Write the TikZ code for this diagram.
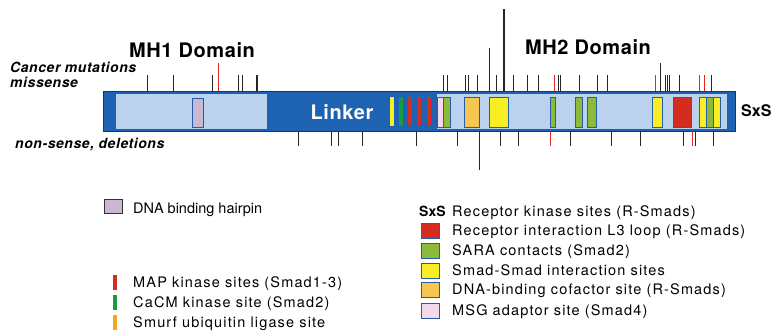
\documentclass[tikz,border=0pt]{standalone}
\usepackage{fontspec}
\setmainfont{TeX Gyre Heros}
\definecolor{bardark}{RGB}{30,98,178}
\definecolor{barlight}{RGB}{186,210,238}
\definecolor{boxline}{RGB}{38,92,170}
\definecolor{sitered}{RGB}{212,44,30}
\definecolor{saragreen}{RGB}{142,186,58}
\definecolor{camgreen}{RGB}{24,154,64}
\definecolor{smadyellow}{RGB}{248,238,36}
\definecolor{cofactor}{RGB}{246,198,80}
\definecolor{msgpink}{RGB}{244,218,232}
\definecolor{hairpin}{RGB}{202,184,210}
\definecolor{smurf}{RGB}{240,170,30}
\definecolor{mutred}{RGB}{228,40,30}
\tikzstyle{every node}=[inner sep=0pt]
\tikzset{sitebox/.style={draw=boxline, line width=1pt},
  mutick/.style={line width=0.9pt, black!85},
  redtick/.style={line width=0.9pt, mutred},
  keylabel/.style={anchor=base west, font=\fontsize{14.5}{16}\selectfont\addfontfeatures{LetterSpace=8}},
  domainlabel/.style={font=\bfseries\fontsize{20}{22}\selectfont\addfontfeatures{LetterSpace=3}},
  mutlabel/.style={anchor=base west, align=left, font=\bfseries\itshape\fontsize{14}{15}\selectfont\addfontfeatures{LetterSpace=4}}}

\begin{document}
\begin{tikzpicture}[x=1pt,y=-1pt]
  \useasboundingbox (0,0) rectangle (772,330);
  % the protein
  \draw[fill=bardark, draw=black!80, line width=0.6pt] (103,91) rectangle (735,131);
  \draw[sitebox, fill=barlight] (115,93) rectangle (267,129);
  \draw[sitebox, fill=barlight] (436,93) rectangle (727,129);
  \draw[sitebox, fill=hairpin] (192,98) rectangle (203,127);
  \fill[smadyellow] (390,97) rectangle (394,126);
  \fill[camgreen] (399,97) rectangle (403,126);
  \foreach \x in {408,417,427}
    \fill[sitered] (\x,97) rectangle (\x+4,126);
  \draw[sitebox, fill=msgpink] (437,97) rectangle (443,127);
  \foreach \a/\b in {443/450,550/555,575/582,587/596,706/713}
    \draw[sitebox, fill=saragreen] (\a,97) rectangle (\b,127);
  \foreach \a/\b in {489/508,652/662,699/706,713/720}
    \draw[sitebox, fill=smadyellow] (\a,97) rectangle (\b,127);
  \draw[sitebox, fill=cofactor] (464,97) rectangle (479,127);
  \draw[sitebox, fill=sitered] (673,97) rectangle (691,127);
  % mutations
  \foreach \x in {147,173,212,238,242,443,447,465,468,477,496,513,527,538,558,560,579,597,607,665,667,669,679,711}
    \draw[mutick] (\x,75) -- (\x,91);
  \draw[mutick, line width=1.5pt] (257,75) -- (257,91);
  \foreach \x in {554,655,699,704}
    \draw[redtick] (\x,75) -- (\x,91);
  \draw[redtick] (218,63) -- (218,91);
  \draw[mutick] (489,48) -- (489,91);
  \draw[mutick, line width=1.2pt] (504,9) -- (504,91);
  \draw[mutick] (660,63) -- (660,91);
  \foreach \x in {298,331,338,362,416,457,500,518,570,611,640,683,695,713}
    \draw[mutick] (\x,131) -- (\x,146);
  \foreach \x in {550,692}
    \draw[redtick] (\x,131) -- (\x,146);
  \draw[mutick] (479,131) -- (479,170);
  % labels
  \node[domainlabel] (mh1) at (192,50) {MH1 Domain};
  \node[domainlabel] (mh2) at (588,47) {MH2 Domain};
  \node[domainlabel, text=white] (linker) at (342,112) {Linker};
  \node[anchor=west, font=\bfseries\fontsize{16}{18}\selectfont] (sxs) at (741,111) {SxS};
  \node[mutlabel] (missense) at (10,87) {Cancer mutations\\missense};
  \node[mutlabel] (nonsense) at (15,148) {non-sense, deletions};
  % legend
  \draw[fill=hairpin, draw=black!80, line width=0.8pt] (104,199) rectangle (122,213);
  \node[keylabel, font=\fontsize{14.5}{16}\selectfont] (hp) at (133,213) {DNA binding hairpin};
  \fill[sitered] (113,275) rectangle (117,290);
  \fill[camgreen] (113,295) rectangle (117,310);
  \fill[smurf] (113,315) rectangle (117,330);
  \node[keylabel] (map) at (133,287) {MAP kinase sites (Smad1-3)};
  \node[keylabel] (cacm) at (133,307) {CaCM kinase site (Smad2)};
  \node[keylabel] (smurf) at (133,327) {Smurf ubiquitin ligase site};
  \node[anchor=base west, font=\bfseries\fontsize{14}{16}\selectfont] (sxskey) at (419,216) {SxS};
  \node[keylabel] (rks) at (452,216) {Receptor kinase sites (R-Smads)};
  \foreach \y/\c/\t/\n in {235/sitered/{Receptor interaction L3 loop (R-Smads)}/l3,
      255/saragreen/{SARA contacts (Smad2)}/sara,
      275/smadyellow/{Smad-Smad interaction sites}/ss,
      294/cofactor/{DNA-binding cofactor site (R-Smads)}/cof,
      315/msgpink/{MSG adaptor site (Smad4)}/msg} {
    \draw[sitebox, fill=\c] (421,\y-12) rectangle (439,\y+3);
    \node[keylabel] (\n) at (452,\y) {\t};
  }
\end{tikzpicture}
\end{document}
